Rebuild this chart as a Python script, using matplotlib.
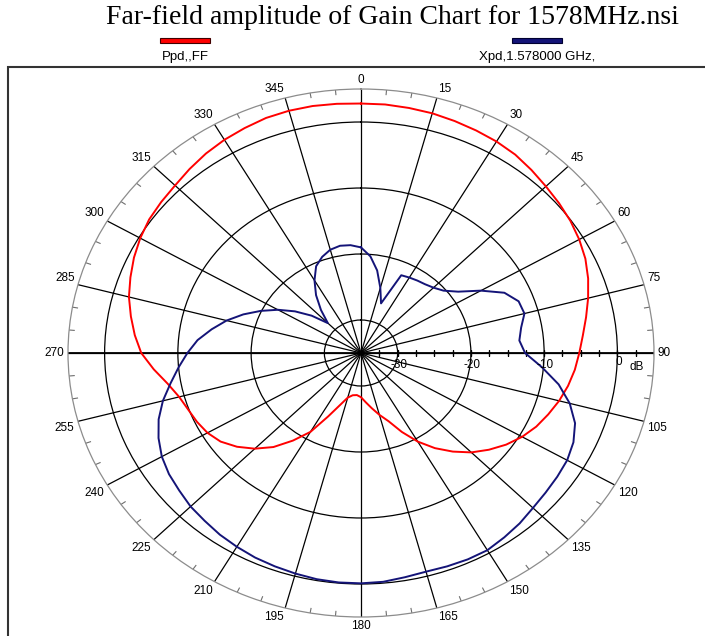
import numpy as np
import matplotlib
matplotlib.use("Agg")
import matplotlib.pyplot as plt
from matplotlib.patches import Rectangle

# angles in degrees (clockwise from top), gain in dB
angles = list(range(0, 360, 5))

ppd_db = [
    2.8, 2.8, 2.7, 2.6, 2.4, 2.2, 2.0, 1.7, 1.2, 0.7,      # 0..45
    0.3, -0.1, -0.6, -1.2, -2.0, -2.9, -3.8, -4.6, -5.2,   # 50..90
    -5.7, -6.3, -7.0, -7.8, -8.6, -9.6, -10.8, -12.2,      # 95..130
    -13.7, -15.5, -17.4, -19.5, -21.8, -24.0, -25.3,       # 135..165
    -26.5, -27.5, -28.3, -28.6, -28.5, -28.0, -26.6,       # 170..200
    -24.4, -21.2, -18.8, -16.4, -14.5, -12.9, -11.6,       # 205..235
    -10.8, -10.3, -9.9, -9.3, -8.2, -6.6, -5.0, -4.0,      # 240..275
    -3.1, -2.2, -1.5, -0.8, -0.2, 0.3, 0.6, 0.9, 1.4,      # 280..320
    1.9, 2.3, 2.6, 2.9, 3.0, 3.0, 2.9,                     # 325..355
]

xpd_db = [
    -19.0, -20.3, -22.3, -24.8, -27.0, -22.0, -21.8,       # 0..30
    -21.6, -21.4, -21.0, -20.3, -18.8, -16.1, -13.4,       # 35..65
    -12.1, -11.9, -12.8, -13.3, -12.6, -10.2, -7.6,        # 70..100
    -5.5, -3.9, -3.0, -2.5, -2.3, -2.1, -1.8, -1.3,        # 105..140
    -0.9, -0.5, -0.5, -0.6, -0.7, -0.5, -0.2, -0.1,        # 145..180
    -0.1, -0.2, -0.4, -0.6, -0.8, -1.1, -1.4, -1.8,        # 185..220
    -2.1, -2.6, -3.0, -3.6, -4.5, -5.6, -7.0, -8.6,        # 225..260
    -10.0, -11.3, -12.6, -14.3, -16.0, -17.9, -19.9,       # 265..295
    -21.9, -24.0, -26.2, -28.6, -26.5, -24.3, -22.3,       # 300..330
    -20.5, -19.5, -18.8, -18.5, -18.6,                     # 335..355
]

r_min, r_max = -35, 5
ring_db = [-30, -20, -10, 0]
ring_labels = ["-30", "-20", "-10", "0"]
spoke_deg = list(range(0, 360, 15))
minor_deg = [d for d in range(0, 360, 5) if d % 15]
axis_ticks_db = list(np.arange(-32.5, 5.1, 2.5))

title = "Far-field amplitude of Gain Chart for 1578MHz.nsi"
series_names = ["Ppd,,FF", "Xpd,1.578000 GHz,"]
series_colors = ["#ff0000", "#141478"]

fig = plt.figure(figsize=(7.05, 6.36), dpi=100)
W, H = 705, 636

# outer frame
fig.patches.append(Rectangle((8 / W, -0.1), 1.2, (H - 67) / H + 0.1,
                             transform=fig.transFigure, fill=False,
                             ec="#333333", lw=1.5))

fig.text(392 / W, 1 - 18 / H, title, ha="center", va="center",
         family="Liberation Serif", fontsize=20)

# legend
for name, col, xc in zip(series_names, series_colors, [185, 537]):
    fig.patches.append(Rectangle(((xc - 25) / W, 1 - 43 / H), 50 / W, 5 / H,
                                 transform=fig.transFigure, fc=col,
                                 ec="#400000" if col == "#ff0000" else "#000030",
                                 lw=0.8))
    fig.text(xc / W, 1 - 57 / H, name, ha="center", va="center",
             family="Liberation Sans", fontsize=9.5)

ax = fig.add_axes([68 / W, 19 / H, 586 / W, 528 / H], projection="polar")
ax.set_aspect("auto")
ax.set_theta_zero_location("N")
ax.set_theta_direction(-1)
ax.set_ylim(r_min, r_max)
ax.set_xticks(np.deg2rad(spoke_deg))
ax.set_xticklabels([])
ax.set_yticks(ring_db)
ax.set_yticklabels([])
ax.tick_params(axis="both", length=0)
ax.grid(True, color="black", lw=0.9)
ax.spines["polar"].set_color("#8c8c8c")
ax.spines["polar"].set_linewidth(0.9)

# main axis (90 / 270)
for d in (90, 270):
    ax.plot([np.deg2rad(d)] * 2, [r_min, r_max], color="black", lw=1.3)
ax.plot(np.full(len(axis_ticks_db), np.pi / 2), axis_ticks_db, ls="none",
        marker="|", ms=5, mew=1, color="black")

# 5 degree ticks on outer ring
for d in minor_deg:
    ax.plot([np.deg2rad(d)] * 2, [r_max, r_max - 0.7], color="#6e6e6e", lw=0.8)

# angle labels
for d in spoke_deg:
    th = np.deg2rad(d)
    s, c = np.sin(th), np.cos(th)
    ha = "left" if s > 0.01 else ("right" if s < -0.01 else "center")
    va = "bottom" if c > 0.01 else ("top" if c < -0.01 else "center")
    ax.annotate(str(d), xy=(th, r_max), xytext=(2.5 * s, 2.5 * c),
                textcoords="offset points", ha=ha, va=va, fontsize=8.5,
                family="Liberation Sans", annotation_clip=False)

# dB labels
for r, lab in zip(ring_db, ring_labels):
    dy = -2 if lab == "0" else -4
    ax.annotate(lab, xy=(np.pi / 2, r), xytext=(1, dy),
                textcoords="offset points", ha="center", va="top",
                fontsize=8.5, family="Liberation Sans", zorder=6)
ax.annotate("dB", xy=(np.pi / 2, 0), xytext=(14, -6),
            textcoords="offset points", ha="center", va="top",
            fontsize=8.5, family="Liberation Sans", zorder=6)

th_all = np.deg2rad(angles + [360])
for vals, col in zip([ppd_db, xpd_db], series_colors):
    ax.plot(th_all, vals + [vals[0]], color=col, lw=1.4, zorder=5)

fig.savefig("out.png", dpi=100)
